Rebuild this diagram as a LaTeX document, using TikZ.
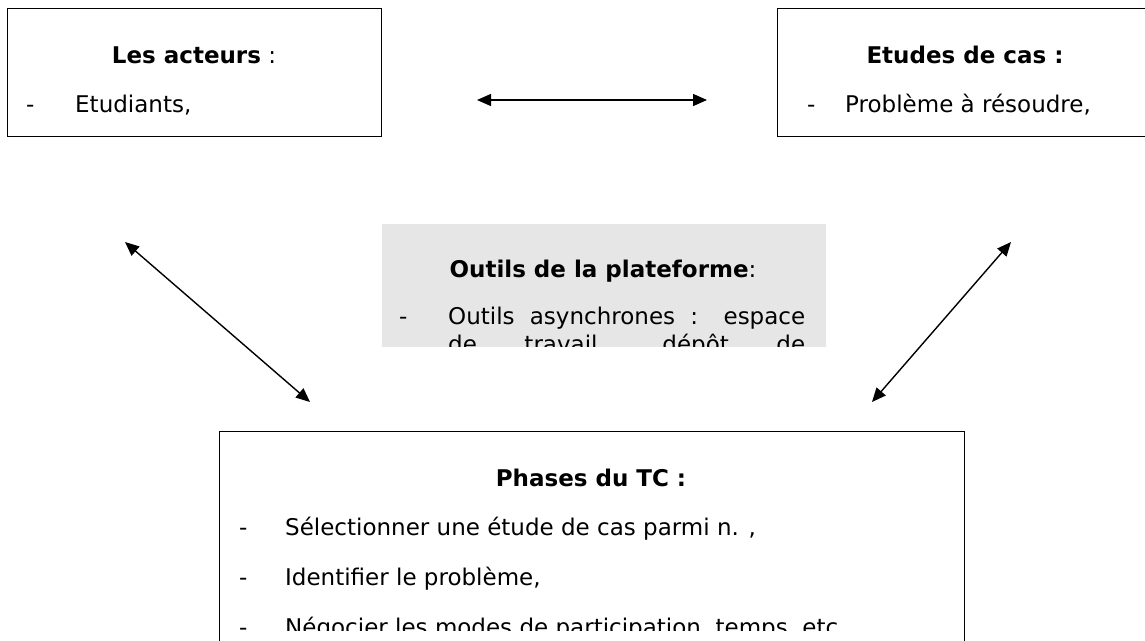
\documentclass[tikz,border=0pt]{standalone}
\usepackage{fontspec}
\setmainfont{DejaVu Sans}
\usetikzlibrary{arrows.meta}
\usepackage{xcolor}
\definecolor{gris}{HTML}{E6E6E6}

\tikzset{
  cadre/.style={draw, line width=1.3pt, anchor=north west, inner sep=0pt},
  titre/.style={anchor=base, inner sep=0pt, font=\fontsize{23}{28}\selectfont},
  texte/.style={anchor=base west, inner sep=0pt, font=\fontsize{23}{28}\selectfont},
  fleche/.style={{Triangle[length=14pt,width=12pt]}-{Triangle[length=14pt,width=12pt]}, line width=1.4pt},
}

\begin{document}
\begin{tikzpicture}[x=1pt,y=-1pt]
  \useasboundingbox (0,0) rectangle (1145,640);
  \clip (0,0) rectangle (1145,640);

  % les cadres
  \node[cadre, minimum width=374pt, minimum height=128pt] (acteurs) at (7,8) {};
  \node[cadre, minimum width=376pt, minimum height=128pt] (cas) at (777,8) {};
  \node[cadre, draw=none, fill=gris, minimum width=444pt, minimum height=123pt] (outils) at (381,223) {};
  \node[cadre, minimum width=745pt, minimum height=260pt] (phases) at (219,431) {};

  % acteurs
  \node[titre] (acteurs-t) at (194,63) {\textbf{Les acteurs} :};
  \node[texte] (acteurs-d) at (26,112) {-};
  \node[texte] (acteurs-1) at (75,112) {Etudiants,};

  % etudes de cas
  \node[titre] (cas-t) at (965,63) {\textbf{Etudes de cas :}};
  \node[texte] (cas-d) at (807,112) {-};
  \node[texte] (cas-1) at (845,112) {Problème à résoudre,};

  % outils
  \begin{scope}
    \clip (381,223) rectangle (825,346);
    \node[titre] (outils-t) at (603,277) {\textbf{Outils de la plateforme}:};
    \node[texte] (outils-d) at (399,324) {-};
    \node[texte] (outils-1) at (448,324) {\makebox[357pt][s]{Outils asynchrones : espace}};
    \node[texte] (outils-2) at (448,352) {\makebox[357pt][s]{de travail, dépôt de}};
  \end{scope}

  % phases
  \begin{scope}
    \clip (219,431) rectangle (964,630);
    \node[titre] (phases-t) at (591,486) {\textbf{Phases du TC :}};
    \node[texte] (phases-d1) at (239,535) {-};
    \node[texte] (phases-1) at (285,535) {Sélectionner une étude de cas parmi n. ,};
    \node[texte] (phases-d2) at (239,585) {-};
    \node[texte] (phases-2) at (285,585) {Identifier le problème,};
    \node[texte] (phases-d3) at (239,635) {-};
    \node[texte] (phases-3) at (285,635) {Négocier les modes de participation, temps, etc.};
  \end{scope}

  % fleches
  \coordinate (h1) at (477,100);
  \coordinate (h2) at (707,100);
  \coordinate (g1) at (125,242);
  \coordinate (g2) at (310,402);
  \coordinate (d1) at (1011,242);
  \coordinate (d2) at (872,402);
  \draw[fleche] (h1) -- (h2);
  \draw[fleche] (g1) -- (g2);
  \draw[fleche] (d1) -- (d2);
\end{tikzpicture}
\end{document}
